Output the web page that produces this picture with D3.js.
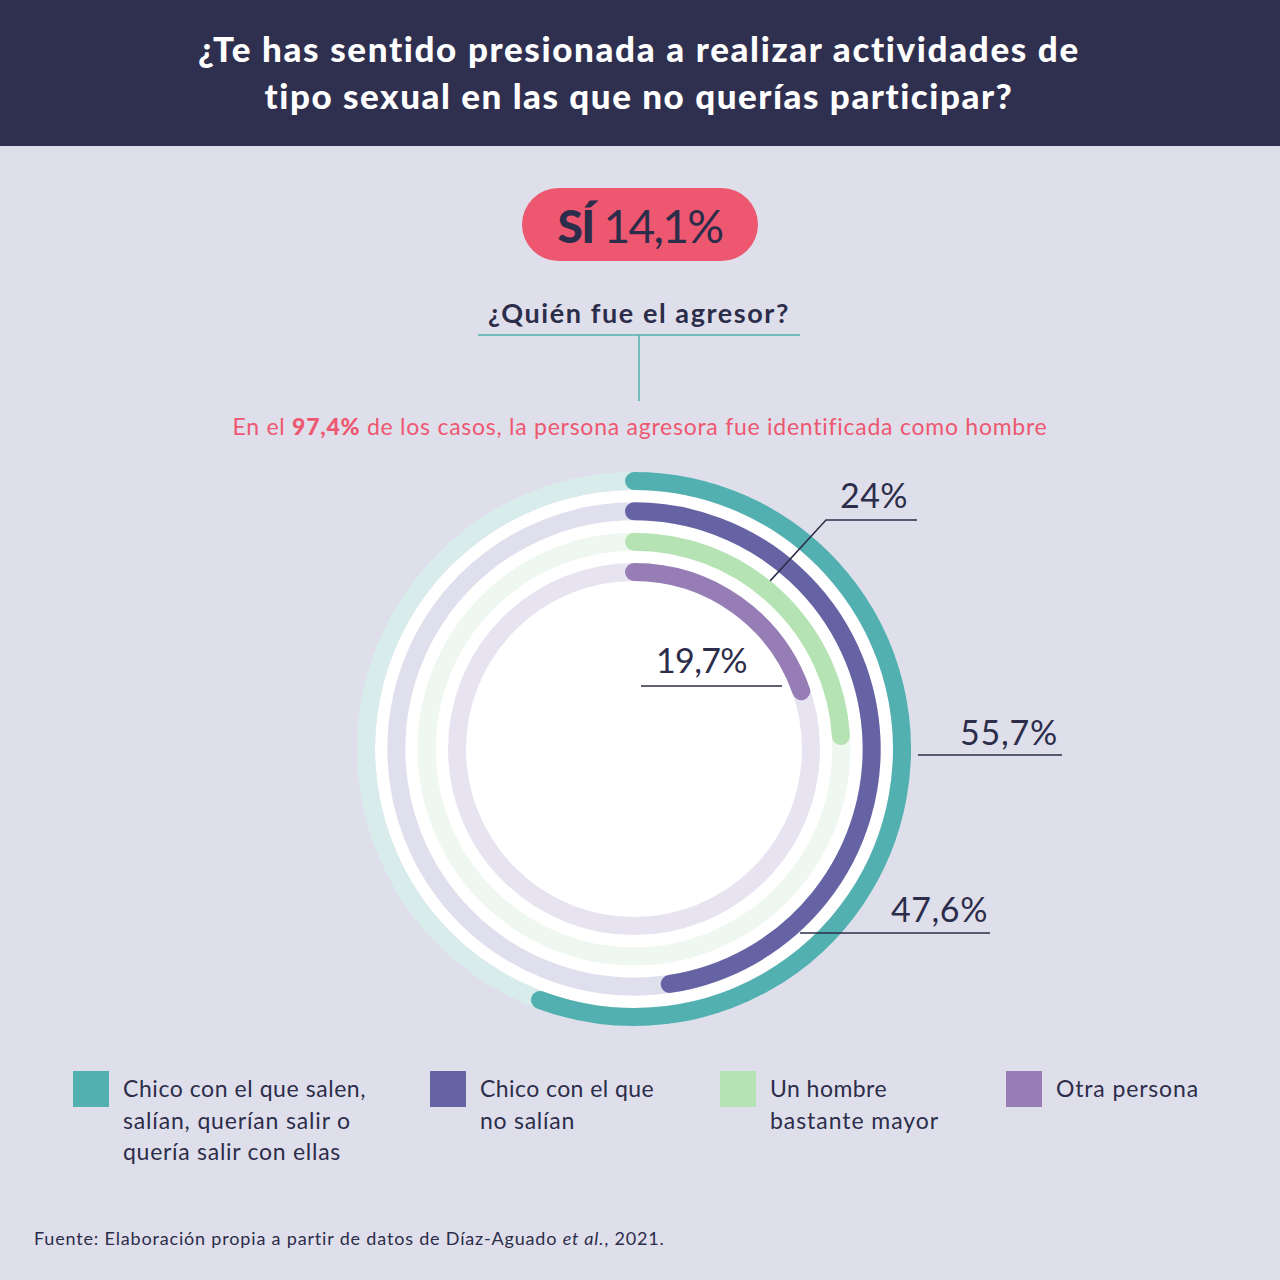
<!DOCTYPE html>
<html><head><meta charset="utf-8">
<script src="https://cdn.jsdelivr.net/npm/d3@7"></script>
<style>
html,body{margin:0;padding:0;background:#dfdfeb;}
svg{display:block;font-family:Lato,"Open Sans",sans-serif;}
</style></head>
<body>
<svg id="c" width="1280" height="1280"></svg>
<script>
// ---- data ----
const titleLines = ["¿Te has sentido presionada a realizar actividades de", "tipo sexual en las que no querías participar?"];
const yesLabel = "SÍ";
const yesValue = "14,1%";
const subtitle = "¿Quién fue el agresor?";
const notePre = "En el ", noteBold = "97,4%", notePost = " de los casos, la persona agresora fue identificada como hombre";
const categories = ["Chico con el que salen, salían, querían salir o quería salir con ellas", "Chico con el que no salían", "Un hombre bastante mayor", "Otra persona"];
const legendLines = [["Chico con el que salen,", "salían, querían salir o", "quería salir con ellas"], ["Chico con el que", "no salían"], ["Un hombre", "bastante mayor"], ["Otra persona"]];
const values = [55.7, 47.6, 24, 19.7];
const valueLabels = ["55,7%", "47,6%", "24%", "19,7%"];
const colors = ["#52b0b1", "#6663a5", "#b6e3b4", "#977db5"];
const trackColors = ["#d9ecec", "#e0dfee", "#eef7f0", "#e8e3f0"];
const source = ["Fuente: Elaboración propia a partir de datos de Díaz-Aguado ", "et al.", ", 2021."];

const svg = d3.select("#c");
const dark = "#2c2d4a", pink = "#ee5770";

// stretch a text element to a target width via letter-spacing
function fit(sel, target){
  const node = sel.node();
  const w = node.getComputedTextLength();
  const n = node.textContent.length;
  if (n > 1) sel.attr("letter-spacing", (target - w) / n);
  return sel;
}

svg.append("rect").attr("width",1280).attr("height",1280).attr("fill","#dfdfeb");
// header
svg.append("rect").attr("width",1280).attr("height",146).attr("fill","#2f3050");
const titleW = [883, 750];
svg.selectAll("text.title").data(titleLines).join("text")
  .attr("x",639).attr("y",(d,i)=>62+i*47).attr("text-anchor","middle")
  .attr("fill","#fff").attr("font-size",35).attr("font-weight",900)
  .text(d=>d).each(function(d,i){ fit(d3.select(this), titleW[i]); });

// pill
svg.append("rect").attr("x",522).attr("y",188).attr("width",236).attr("height",73).attr("rx",36.5).attr("fill",pink);
const pill = svg.append("text").attr("x",640).attr("y",243).attr("text-anchor","middle").attr("fill",dark).attr("font-size",46);
pill.append("tspan").attr("font-weight",900).text(yesLabel);
pill.append("tspan").attr("font-weight",400).text(" "+yesValue);
fit(pill, 165);

// subtitle
fit(svg.append("text").attr("x",639).attr("y",323).attr("text-anchor","middle").attr("fill",dark)
  .attr("font-size",27).attr("font-weight",700).text(subtitle), 302);
svg.append("line").attr("x1",478).attr("x2",800).attr("y1",335).attr("y2",335).attr("stroke","#52b0b1").attr("stroke-width",1.5);
svg.append("line").attr("x1",639).attr("x2",639).attr("y1",335).attr("y2",401).attr("stroke","#52b0b1").attr("stroke-width",1.5);

const note = svg.append("text").attr("x",640).attr("y",435).attr("text-anchor","middle").attr("fill",pink).attr("font-size",23);
note.append("tspan").text(notePre);
note.append("tspan").attr("font-weight",900).text(noteBold);
note.append("tspan").text(notePost);
fit(note, 815);

// ---- radial bars ----
const cx = 634, cy = 749;
const r = d3.scalePoint().domain(categories).range([268, 177]);
const ang = d3.scaleLinear().domain([0,100]).range([0, 2*Math.PI]);
const bw = 18;
const g = svg.append("g");
g.append("circle").attr("cx",cx).attr("cy",cy).attr("r",r(categories[0]) - bw/2).attr("fill","#fff");
// tracks
g.selectAll("circle.track").data(categories).join("circle")
  .attr("cx",cx).attr("cy",cy).attr("r",d=>r(d)).attr("fill","none")
  .attr("stroke",(d,i)=>trackColors[i]).attr("stroke-width",bw);
function arcPath(rad, v){
  const p = d3.path();
  const a0 = -Math.PI/2, a1 = ang(v) - Math.PI/2;
  p.moveTo(cx + rad*Math.cos(a0), cy + rad*Math.sin(a0));
  p.arc(cx, cy, rad, a0, a1, false);
  return p.toString();
}
g.selectAll("path.bar").data(categories).join("path")
  .attr("d",(d,i)=>arcPath(r(d), values[i])).attr("fill","none")
  .attr("stroke",(d,i)=>colors[i]).attr("stroke-width",bw).attr("stroke-linecap","round");

// ---- value labels ----
function pt(rad, deg){ const a=(deg-90)*Math.PI/180; return [cx+rad*Math.cos(a), cy+rad*Math.sin(a)]; }
const lab = svg.append("g").attr("fill",dark).attr("font-size",34);
const lc = dark, lw = 1.5;
// 55,7%
fit(lab.append("text").attr("x",1058).attr("y",745).attr("text-anchor","end").text(valueLabels[0]), 98);
lab.append("line").attr("x1",918).attr("x2",1062).attr("y1",755).attr("y2",755).attr("stroke",lc).attr("stroke-width",lw);
// 47,6%
fit(lab.append("text").attr("x",988).attr("y",922).attr("text-anchor","end").text(valueLabels[1]), 97);
lab.append("line").attr("x1",800).attr("x2",990).attr("y1",933).attr("y2",933).attr("stroke",lc).attr("stroke-width",lw);
// 24%
const p24 = pt(r(categories[2]) + bw/2, 39);
fit(lab.append("text").attr("x",908).attr("y",508).attr("text-anchor","end").text(valueLabels[2]), 68);
lab.append("path").attr("d",`M${p24[0]},${p24[1]}L826,520L917,520`).attr("fill","none").attr("stroke",lc).attr("stroke-width",lw);
// 19,7%
fit(lab.append("text").attr("x",747).attr("y",673).attr("text-anchor","end").text(valueLabels[3]), 91);
lab.append("line").attr("x1",641).attr("x2",782).attr("y1",686).attr("y2",686).attr("stroke",lc).attr("stroke-width",lw);

// ---- legend ----
const legX = [73, 430, 720, 1006];
const legW = [[243, 228, 218], [174, 95], [117, 169], [143]];
const leg = svg.append("g");
categories.forEach((c,i)=>{
  leg.append("rect").attr("x",legX[i]).attr("y",1071).attr("width",36).attr("height",36).attr("fill",colors[i]);
  legendLines[i].forEach((l,j)=>{
    fit(leg.append("text").attr("x",legX[i]+50).attr("y",1097+j*31.5).attr("fill",dark).attr("font-size",23).text(l), legW[i][j]);
  });
});

// ---- source ----
const s = svg.append("text").attr("x",34).attr("y",1245).attr("fill",dark).attr("font-size",18);
s.append("tspan").text(source[0]);
s.append("tspan").attr("font-style","italic").text(source[1]);
s.append("tspan").text(source[2]);
fit(s, 631);
</script>
</body></html>
